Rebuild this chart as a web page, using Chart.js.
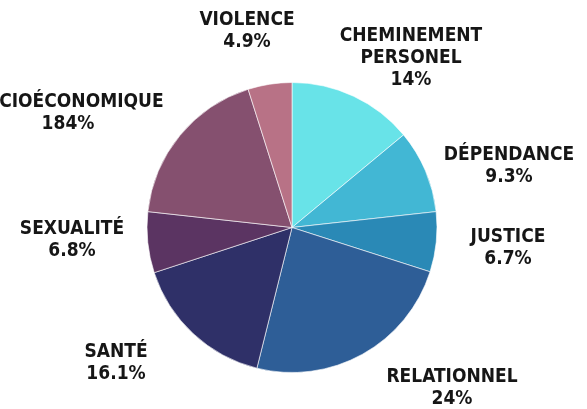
<!DOCTYPE html>
<html>
<head>
<meta charset="utf-8">
<script src="https://cdn.jsdelivr.net/npm/chart.js@4.4.1/dist/chart.umd.min.js"></script>
<style>
  html, body { margin: 0; padding: 0; background: #ffffff; }
  #wrap { width: 587px; height: 409px; position: relative; }
</style>
</head>
<body>
<div id="wrap"><canvas id="c" width="587" height="409"></canvas></div>
<script>
// ---- data ----
const categories = ["CHEMINEMENT PERSONEL", "DÉPENDANCE", "JUSTICE", "RELATIONNEL", "SANTÉ", "SEXUALITÉ", "SOCIOÉCONOMIQUE", "VIOLENCE"];
const values = [14, 9.3, 6.7, 24, 16.1, 6.8, 18.4, 4.9];
const valueLabels = ["14%", "9.3%", "6.7%", "24%", "16.1%", "6.8%", "184%", "4.9%"];
const labelLines = [["CHEMINEMENT", "PERSONEL"], ["DÉPENDANCE"], ["JUSTICE"], ["RELATIONNEL"], ["SANTÉ"], ["SEXUALITÉ"], ["SOCIOÉCONOMIQUE"], ["VIOLENCE"]];

// ---- style / layout ----
const colors = ["#68E3E8", "#42B7D4", "#2A89B6", "#2E5E97", "#2F3068", "#5B3462", "#85506F", "#B87286"];
const labelAnchors = [[411, 36], [509, 155], [508, 237], [452, 377], [116, 352], [72, 229], [68, 102], [247, 20]];
const lineGap = 22;

const labelPlugin = {
  id: "outerLabels",
  afterDraw(chart) {
    const ctx = chart.ctx;
    ctx.save();
    ctx.fillStyle = "#161616";
    ctx.font = "bold 19px 'Liberation Sans Narrow', 'DejaVu Sans Condensed', sans-serif";
    ctx.textAlign = "center";
    ctx.textBaseline = "middle";
    labelLines.forEach((lines, i) => {
      const [x, y] = labelAnchors[i];
      const all = lines.concat([valueLabels[i]]);
      all.forEach((t, k) => ctx.fillText(t, x, y + k * lineGap));
    });
    ctx.restore();
  }
};

new Chart(document.getElementById("c"), {
  type: "pie",
  data: {
    labels: categories,
    datasets: [{
      data: values,
      backgroundColor: colors,
      borderColor: "rgba(255,255,255,0.6)",
      borderWidth: 1
    }]
  },
  options: {
    responsive: false,
    animation: false,
    layout: { padding: { left: 0, right: 3, top: 82, bottom: 36 } },
    plugins: { legend: { display: false }, tooltip: { enabled: false } }
  },
  plugins: [labelPlugin]
});
</script>
</body>
</html>
